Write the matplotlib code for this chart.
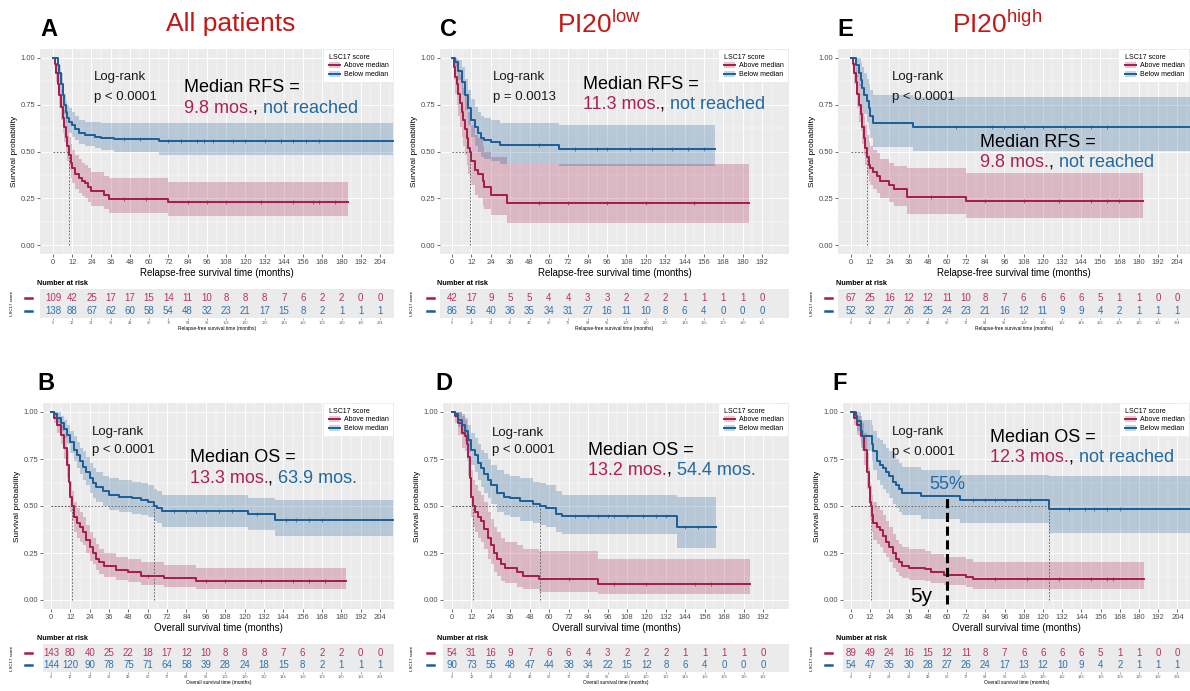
import numpy as np
import matplotlib.pyplot as plt
from matplotlib.patches import Patch
from matplotlib.lines import Line2D

plt.rcParams['font.family'] = ['Liberation Sans', 'DejaVu Sans']
plt.rcParams['mathtext.fontset'] = 'custom'
plt.rcParams['mathtext.rm'] = 'Liberation Sans'
plt.rcParams['mathtext.it'] = 'Liberation Sans:italic'
plt.rcParams['mathtext.bf'] = 'Liberation Sans:bold'

RED = '#A51C4C'
BLUE = '#1C5E98'
RED_TXT = '#B0204F'
BLUE_TXT = '#1F6AA6'
TITLE_RED = '#C41818'
GRAY_BG = '#EBEBEB'

W, H = 1190, 691


def fx(px):
    return px / W


def fy(py):
    return 1 - py / H


# ---------------- data ----------------
risk_times = list(range(0, 205, 12))

# A: relapse-free survival, all patients
a_red_t = [0, 1, 2, 3, 4, 5, 6, 7, 8, 9, 10, 11, 12, 14, 16, 18, 20, 22, 24, 32, 35, 72, 184]
a_red_s = [1.0, 0.97, 0.92, 0.86, 0.80, 0.74, 0.68, 0.63, 0.58, 0.53, 0.48, 0.44, 0.41, 0.38, 0.36, 0.34, 0.33, 0.31, 0.29, 0.27, 0.244, 0.228, 0.228]
a_red_lo = [1.0, 0.94, 0.87, 0.80, 0.73, 0.67, 0.60, 0.55, 0.50, 0.45, 0.40, 0.36, 0.33, 0.30, 0.28, 0.26, 0.25, 0.23, 0.21, 0.19, 0.17, 0.155, 0.155]
a_red_hi = [1.0, 1.0, 0.97, 0.93, 0.88, 0.83, 0.77, 0.72, 0.67, 0.62, 0.58, 0.54, 0.51, 0.48, 0.46, 0.44, 0.43, 0.41, 0.39, 0.37, 0.356, 0.338, 0.338]
a_red_cens = [44, 58, 84, 96, 108, 130, 150, 162, 166, 176]
a_blue_t = [0, 2, 3, 4, 5, 6, 7, 8, 9, 10, 12, 14, 16, 20, 26, 30, 38, 66, 212]
a_blue_s = [1.0, 1.0, 0.96, 0.92, 0.86, 0.80, 0.75, 0.71, 0.68, 0.66, 0.64, 0.62, 0.60, 0.59, 0.58, 0.57, 0.565, 0.555, 0.555]
a_blue_lo = [1.0, 1.0, 0.93, 0.88, 0.82, 0.75, 0.70, 0.65, 0.62, 0.60, 0.58, 0.56, 0.54, 0.53, 0.52, 0.51, 0.50, 0.48, 0.48]
a_blue_hi = [1.0, 1.0, 0.99, 0.96, 0.92, 0.86, 0.81, 0.77, 0.75, 0.73, 0.71, 0.69, 0.67, 0.66, 0.66, 0.655, 0.655, 0.653, 0.653]
a_blue_cens = [44, 54, 72, 80, 90, 94, 100, 112, 120, 132, 142, 150, 158, 166]
a_red_risk = [109, 42, 25, 17, 17, 15, 14, 11, 10, 8, 8, 8, 7, 6, 2, 2, 0, 0]
a_blue_risk = [138, 88, 67, 62, 60, 58, 54, 48, 32, 23, 21, 17, 15, 8, 2, 1, 1, 1]

# C: relapse-free survival, PI20 low
c_red_t = [0, 1, 2, 3, 4, 5, 6, 7, 8, 9, 10, 11.3, 12, 14, 16, 19, 20, 24, 34, 184]
c_red_s = [1.0, 0.95, 0.90, 0.86, 0.81, 0.76, 0.71, 0.67, 0.62, 0.57, 0.52, 0.50, 0.45, 0.40, 0.38, 0.34, 0.31, 0.27, 0.225, 0.225]
c_red_lo = [1.0, 0.88, 0.81, 0.75, 0.69, 0.63, 0.58, 0.53, 0.48, 0.43, 0.38, 0.36, 0.32, 0.27, 0.25, 0.21, 0.19, 0.16, 0.12, 0.12]
c_red_hi = [1.0, 1.0, 0.99, 0.97, 0.94, 0.91, 0.87, 0.84, 0.80, 0.76, 0.71, 0.69, 0.64, 0.59, 0.57, 0.53, 0.50, 0.47, 0.435, 0.435]
c_red_cens = [54, 72, 96, 120, 150]
c_blue_t = [0, 2, 4, 6, 8, 10, 12, 14, 16, 18, 20, 24, 30, 66, 163]
c_blue_s = [1.0, 0.98, 0.93, 0.87, 0.80, 0.73, 0.67, 0.63, 0.60, 0.57, 0.56, 0.55, 0.535, 0.515, 0.515]
c_blue_lo = [1.0, 0.95, 0.88, 0.80, 0.72, 0.64, 0.58, 0.53, 0.50, 0.47, 0.46, 0.45, 0.435, 0.42, 0.42]
c_blue_hi = [1.0, 1.0, 0.99, 0.95, 0.89, 0.83, 0.78, 0.74, 0.71, 0.69, 0.68, 0.67, 0.655, 0.64, 0.64]
c_blue_cens = [54, 76, 90, 96, 110, 124, 136, 146, 156]
c_red_risk = [42, 17, 9, 5, 5, 4, 4, 3, 3, 2, 2, 2, 1, 1, 1, 1, 0]
c_blue_risk = [86, 56, 40, 36, 35, 34, 31, 27, 16, 11, 10, 8, 6, 4, 0, 0, 0]

# E: relapse-free survival, PI20 high
e_red_t = [0, 1, 2, 3, 4, 5, 6, 7, 8, 9, 10, 11, 12, 14, 16, 18, 24, 27, 35, 72, 183]
e_red_s = [1.0, 0.97, 0.92, 0.87, 0.81, 0.75, 0.70, 0.63, 0.57, 0.52, 0.47, 0.43, 0.41, 0.39, 0.37, 0.34, 0.32, 0.30, 0.258, 0.235, 0.235]
e_red_lo = [1.0, 0.93, 0.86, 0.80, 0.73, 0.66, 0.61, 0.54, 0.48, 0.43, 0.38, 0.34, 0.32, 0.30, 0.28, 0.25, 0.23, 0.21, 0.165, 0.145, 0.145]
e_red_hi = [1.0, 1.0, 0.98, 0.95, 0.91, 0.86, 0.81, 0.75, 0.69, 0.64, 0.59, 0.55, 0.53, 0.51, 0.49, 0.46, 0.44, 0.42, 0.41, 0.383, 0.383]
e_red_cens = [50, 84, 108, 130, 150, 160, 168]
e_blue_t = [0, 2, 3, 5, 6, 7, 8, 10, 11, 12, 14, 39, 212]
e_blue_s = [1.0, 1.0, 0.96, 0.92, 0.88, 0.84, 0.80, 0.77, 0.73, 0.69, 0.655, 0.63, 0.63]
e_blue_lo = [1.0, 1.0, 0.90, 0.85, 0.80, 0.75, 0.70, 0.66, 0.62, 0.57, 0.525, 0.505, 0.505]
e_blue_hi = [1.0, 1.0, 1.0, 1.0, 0.98, 0.95, 0.92, 0.89, 0.86, 0.83, 0.80, 0.79, 0.79]
e_blue_cens = [66, 88, 96, 108, 120, 134, 150, 160]
e_red_risk = [67, 25, 16, 12, 12, 11, 10, 8, 7, 6, 6, 6, 6, 5, 1, 1, 0, 0]
e_blue_risk = [52, 32, 27, 26, 25, 24, 23, 21, 16, 12, 11, 9, 9, 4, 2, 1, 1, 1]

# B: overall survival, all patients
b_red_t = [0, 2, 4, 6, 8, 10, 11, 12, 13.3, 14, 16, 18, 20, 22, 24, 26, 28, 30, 33, 40, 48, 56, 70, 90, 183]
b_red_s = [1.0, 0.97, 0.93, 0.88, 0.81, 0.72, 0.63, 0.55, 0.50, 0.44, 0.41, 0.39, 0.36, 0.32, 0.28, 0.25, 0.22, 0.20, 0.18, 0.16, 0.15, 0.13, 0.115, 0.103, 0.103]
b_red_lo = [1.0, 0.94, 0.89, 0.83, 0.75, 0.65, 0.55, 0.47, 0.42, 0.36, 0.33, 0.31, 0.29, 0.25, 0.21, 0.19, 0.16, 0.14, 0.12, 0.105, 0.095, 0.08, 0.07, 0.06, 0.06]
b_red_hi = [1.0, 1.0, 0.97, 0.93, 0.87, 0.79, 0.71, 0.63, 0.58, 0.52, 0.49, 0.47, 0.44, 0.40, 0.36, 0.33, 0.30, 0.27, 0.25, 0.23, 0.22, 0.20, 0.185, 0.172, 0.172]
b_red_cens = [60, 96, 108, 130, 150, 160, 170]
b_blue_t = [0, 1, 2, 4, 6, 8, 10, 12, 14, 16, 18, 20, 22, 24, 26, 28, 32, 36, 42, 50, 56, 60, 63.9, 66, 69, 122, 139, 212]
b_blue_s = [1.0, 1.0, 0.99, 0.97, 0.94, 0.91, 0.88, 0.84, 0.80, 0.77, 0.74, 0.71, 0.68, 0.65, 0.62, 0.60, 0.58, 0.56, 0.55, 0.54, 0.53, 0.52, 0.50, 0.49, 0.475, 0.455, 0.428, 0.428]
b_blue_lo = [1.0, 1.0, 0.97, 0.94, 0.90, 0.86, 0.83, 0.78, 0.74, 0.70, 0.67, 0.64, 0.61, 0.57, 0.54, 0.52, 0.50, 0.48, 0.47, 0.46, 0.45, 0.44, 0.42, 0.41, 0.39, 0.37, 0.34, 0.34]
b_blue_hi = [1.0, 1.0, 1.0, 1.0, 0.98, 0.96, 0.93, 0.90, 0.87, 0.84, 0.81, 0.79, 0.76, 0.73, 0.70, 0.68, 0.66, 0.65, 0.64, 0.63, 0.62, 0.61, 0.59, 0.58, 0.56, 0.545, 0.53, 0.53]
b_blue_cens = [76, 84, 90, 96, 104, 112, 128, 146, 152, 160, 168]
b_red_risk = [143, 80, 40, 25, 22, 18, 17, 12, 10, 8, 8, 8, 7, 6, 2, 2, 0, 0]
b_blue_risk = [144, 120, 90, 78, 75, 71, 64, 58, 39, 28, 24, 18, 15, 8, 2, 1, 1, 1]

# D: overall survival, PI20 low
d_red_t = [0, 2, 4, 6, 8, 9, 10, 11, 12, 13.2, 14, 16, 18, 20, 22, 24, 26, 28, 30, 33, 40, 44, 54, 90, 184]
d_red_s = [1.0, 0.98, 0.94, 0.89, 0.87, 0.83, 0.76, 0.65, 0.55, 0.50, 0.47, 0.44, 0.42, 0.38, 0.33, 0.29, 0.25, 0.22, 0.19, 0.17, 0.15, 0.13, 0.11, 0.085, 0.085]
d_red_lo = [1.0, 0.94, 0.88, 0.81, 0.79, 0.74, 0.66, 0.54, 0.44, 0.39, 0.36, 0.33, 0.31, 0.27, 0.22, 0.19, 0.15, 0.13, 0.10, 0.09, 0.07, 0.06, 0.045, 0.03, 0.03]
d_red_hi = [1.0, 1.0, 1.0, 0.98, 0.96, 0.93, 0.88, 0.78, 0.69, 0.64, 0.61, 0.58, 0.56, 0.52, 0.47, 0.43, 0.39, 0.36, 0.33, 0.31, 0.29, 0.27, 0.26, 0.216, 0.216]
d_red_cens = [72, 100, 120, 150, 160]
d_blue_t = [0, 2, 4, 6, 8, 10, 12, 14, 16, 18, 20, 22, 24, 28, 32, 36, 42, 50, 54.4, 58, 64, 68, 139, 163]
d_blue_s = [1.0, 0.99, 0.96, 0.93, 0.90, 0.85, 0.80, 0.77, 0.73, 0.70, 0.67, 0.64, 0.61, 0.57, 0.55, 0.54, 0.525, 0.51, 0.50, 0.49, 0.46, 0.445, 0.39, 0.39]
d_blue_lo = [1.0, 0.97, 0.92, 0.88, 0.84, 0.78, 0.72, 0.68, 0.64, 0.60, 0.57, 0.54, 0.51, 0.47, 0.45, 0.44, 0.42, 0.41, 0.40, 0.39, 0.36, 0.35, 0.275, 0.275]
d_blue_hi = [1.0, 1.0, 1.0, 0.99, 0.97, 0.93, 0.89, 0.86, 0.83, 0.80, 0.78, 0.75, 0.72, 0.69, 0.67, 0.66, 0.65, 0.63, 0.62, 0.61, 0.58, 0.56, 0.55, 0.55]
d_blue_cens = [76, 84, 90, 96, 100, 108, 118, 126, 132, 144, 152]
d_red_risk = [54, 31, 16, 9, 7, 6, 6, 4, 3, 2, 2, 2, 1, 1, 1, 1, 0]
d_blue_risk = [90, 73, 55, 48, 47, 44, 38, 34, 22, 15, 12, 8, 6, 4, 0, 0, 0]

# F: overall survival, PI20 high
f_red_t = [0, 2, 4, 6, 8, 10, 11, 12, 12.3, 13, 14, 16, 18, 20, 22, 24, 26, 28, 30, 32, 36, 46, 50, 58, 72, 76, 183]
f_red_s = [1.0, 0.97, 0.93, 0.87, 0.80, 0.68, 0.60, 0.52, 0.50, 0.45, 0.41, 0.39, 0.37, 0.34, 0.31, 0.28, 0.25, 0.22, 0.20, 0.18, 0.17, 0.165, 0.15, 0.135, 0.125, 0.11, 0.11]
f_red_lo = [1.0, 0.93, 0.88, 0.81, 0.72, 0.59, 0.51, 0.43, 0.41, 0.36, 0.32, 0.30, 0.28, 0.25, 0.23, 0.20, 0.17, 0.15, 0.13, 0.115, 0.105, 0.10, 0.09, 0.08, 0.07, 0.06, 0.06]
f_red_hi = [1.0, 1.0, 0.98, 0.94, 0.89, 0.78, 0.71, 0.63, 0.61, 0.56, 0.52, 0.50, 0.48, 0.45, 0.42, 0.39, 0.35, 0.32, 0.30, 0.28, 0.27, 0.26, 0.245, 0.23, 0.22, 0.204, 0.204]
f_red_cens = [90, 110, 130, 150, 160, 164]
f_blue_t = [0, 2, 3, 4, 6, 7, 13, 14, 16, 18, 20, 22, 24, 26, 28, 30, 32, 44, 68, 124, 212]
f_blue_s = [1.0, 1.0, 0.98, 0.95, 0.90, 0.87, 0.83, 0.79, 0.74, 0.72, 0.70, 0.68, 0.66, 0.63, 0.61, 0.59, 0.57, 0.555, 0.53, 0.485, 0.485]
f_blue_lo = [1.0, 1.0, 0.94, 0.90, 0.83, 0.79, 0.74, 0.69, 0.64, 0.61, 0.59, 0.57, 0.54, 0.51, 0.49, 0.47, 0.45, 0.43, 0.41, 0.355, 0.355]
f_blue_hi = [1.0, 1.0, 1.0, 1.0, 0.98, 0.96, 0.93, 0.90, 0.86, 0.85, 0.83, 0.81, 0.79, 0.77, 0.75, 0.73, 0.71, 0.69, 0.665, 0.66, 0.66]
f_blue_cens = [76, 84, 90, 96, 104, 112, 136, 146, 152, 160, 168]
f_red_risk = [89, 49, 24, 16, 15, 12, 11, 8, 7, 6, 6, 6, 6, 5, 1, 1, 0, 0]
f_blue_risk = [54, 47, 35, 30, 28, 27, 26, 24, 17, 13, 12, 10, 9, 4, 2, 1, 1, 1]

RFS = 'Relapse-free survival time (months)'
OS = 'Overall survival time (months)'

panels = [
    dict(letter='A', title='All patients', row=0, col=0, xr=(40, 394), x0=53, ppm=1.603, tmax=204,
         red=(a_red_t, a_red_s, a_red_lo, a_red_hi, a_red_cens),
         blue=(a_blue_t, a_blue_s, a_blue_lo, a_blue_hi, a_blue_cens),
         risk=(a_red_risk, a_blue_risk), medians=[9.8], xlabel=RFS,
         lr=(25.5, 0.90, 0.79), pval='p < 0.0001',
         med=(82, 0.84, 0.73), medlab='Median RFS =', medvals=('9.8 mos.', 'not reached')),
    dict(letter='C', title=r'PI20$^{\mathrm{low}}$', row=0, col=1, xr=(440, 789), x0=452, ppm=1.615, tmax=192,
         red=(c_red_t, c_red_s, c_red_lo, c_red_hi, c_red_cens),
         blue=(c_blue_t, c_blue_s, c_blue_lo, c_blue_hi, c_blue_cens),
         risk=(c_red_risk, c_blue_risk), medians=[11.3], xlabel=RFS,
         lr=(25.4, 0.90, 0.79), pval='p = 0.0013',
         med=(81, 0.86, 0.75), medlab='Median RFS =', medvals=('11.3 mos.', 'not reached')),
    dict(letter='E', title=r'PI20$^{\mathrm{high}}$', row=0, col=2, xr=(838, 1190), x0=851, ppm=1.598, tmax=204,
         red=(e_red_t, e_red_s, e_red_lo, e_red_hi, e_red_cens),
         blue=(e_blue_t, e_blue_s, e_blue_lo, e_blue_hi, e_blue_cens),
         risk=(e_red_risk, e_blue_risk), medians=[9.8], xlabel=RFS,
         lr=(25.4, 0.90, 0.79), pval='p < 0.0001',
         med=(80.6, 0.55, 0.44), medlab='Median RFS =', medvals=('9.8 mos.', 'not reached')),
    dict(letter='B', title=None, row=1, col=0, xr=(43, 394), x0=51, ppm=1.613, tmax=204,
         red=(b_red_t, b_red_s, b_red_lo, b_red_hi, b_red_cens),
         blue=(b_blue_t, b_blue_s, b_blue_lo, b_blue_hi, b_blue_cens),
         risk=(b_red_risk, b_blue_risk), medians=[13.3, 63.9], xlabel=OS,
         lr=(25.4, 0.894, 0.797), pval='p < 0.0001',
         med=(86, 0.757, 0.646), medlab='Median OS =', medvals=('13.3 mos.', '63.9 mos.')),
    dict(letter='D', title=None, row=1, col=1, xr=(443, 789), x0=452, ppm=1.62, tmax=192,
         red=(d_red_t, d_red_s, d_red_lo, d_red_hi, d_red_cens),
         blue=(d_blue_t, d_blue_s, d_blue_lo, d_blue_hi, d_blue_cens),
         risk=(d_red_risk, d_blue_risk), medians=[13.2, 54.4], xlabel=OS,
         lr=(24.9, 0.89, 0.80), pval='p < 0.0001',
         med=(84, 0.796, 0.69), medlab='Median OS =', medvals=('13.2 mos.', '54.4 mos.')),
    dict(letter='F', title=None, row=1, col=2, xr=(843, 1190), x0=851, ppm=1.60, tmax=204,
         red=(f_red_t, f_red_s, f_red_lo, f_red_hi, f_red_cens),
         blue=(f_blue_t, f_blue_s, f_blue_lo, f_blue_hi, f_blue_cens),
         risk=(f_red_risk, f_blue_risk), medians=[12.3, 123.5], xlabel=OS,
         lr=(25.4, 0.894, 0.788), pval='p < 0.0001',
         med=(86.9, 0.867, 0.757), medlab='Median OS =', medvals=('12.3 mos.', 'not reached')),
]

col_label_x = [37, 437, 836]
col_dash_x = [25, 427, 825]
col_lsc_x = [12, 412, 812]

fig = plt.figure(figsize=(W / 100, H / 100), dpi=100)
fig.patch.set_facecolor('white')


def draw(p):
    l, r = p['xr']
    top, bot = (48.6, 254.4) if p['row'] == 0 else (402.6, 609.4)
    ax = fig.add_axes([fx(l), fy(bot), fx(r) - fx(l), (bot - top) / H])
    ax.set_facecolor(GRAY_BG)
    xlim = ((l - p['x0']) / p['ppm'], (r - p['x0']) / p['ppm'])
    ax.set_xlim(*xlim)
    ax.set_ylim(-0.05, 1.05)
    ticks = np.arange(0, p['tmax'] + 1, 12)
    ax.set_xticks(ticks)
    ax.set_xticks(np.arange(6, xlim[1], 12), minor=True)
    ax.set_yticks([0, 0.25, 0.5, 0.75, 1.0])
    ax.set_yticklabels(['0.00', '0.25', '0.50', '0.75', '1.00'])
    ax.set_yticks([0.125, 0.375, 0.625, 0.875], minor=True)
    ax.grid(which='major', color='white', lw=0.7)
    ax.grid(which='minor', color='white', lw=0.35)
    ax.set_axisbelow(True)
    for s in ax.spines.values():
        s.set_visible(False)
    ax.tick_params(which='major', length=2, width=0.5, color='#333333',
                   labelsize=5.5, labelcolor='#4D4D4D', pad=1.5)
    ax.tick_params(which='minor', length=0)
    ax.set_xlabel(p['xlabel'], fontsize=7, labelpad=1)
    ax.set_ylabel('Survival probability', fontsize=6, labelpad=2)

    for curve, col in ((p['red'], RED), (p['blue'], BLUE)):
        t, s, lo, hi, cens = curve
        ax.fill_between(t, lo, hi, step='post', color=col, alpha=0.25, lw=0)
        ax.step(t, s, where='post', color=col, lw=1.4)
        idx = np.searchsorted(t, cens, side='right') - 1
        ax.plot(cens, np.array(s)[idx], '+', color=col, ms=2.5, mew=0.5)

    for m in p['medians']:
        ax.plot([0, m], [0.5, 0.5], color='#555555', lw=0.6, ls=(0, (2, 2)))
        ax.plot([m, m], [0, 0.5], color='#555555', lw=0.6, ls=(0, (2, 2)))

    handles = [(Patch(facecolor=RED, alpha=0.25, lw=0), Line2D([], [], color=RED, lw=1.4)),
               (Patch(facecolor=BLUE, alpha=0.25, lw=0), Line2D([], [], color=BLUE, lw=1.4))]
    ax.legend(handles, ['Above median', 'Below median'], title='LSC17 score',
              loc='upper right', fontsize=5, title_fontsize=5, frameon=True,
              facecolor='white', edgecolor='none', fancybox=False, framealpha=1,
              borderaxespad=0.15, handlelength=1.7, handleheight=0.9,
              labelspacing=0.2, borderpad=0.6, handletextpad=0.5, alignment='left')

    x, y1, y2 = p['lr']
    ax.text(x, y1, 'Log-rank', fontsize=9.5, va='center', ha='left', color='#1A1A1A')
    ax.text(x, y2, p['pval'], fontsize=9.5, va='center', ha='left', color='#1A1A1A')
    x, y1, y2 = p['med']
    ax.text(x, y1, p['medlab'], fontsize=13, va='center', ha='left', color='black')
    t1 = ax.text(x, y2, p['medvals'][0], fontsize=13, va='center', ha='left', color=RED_TXT)
    t2 = ax.annotate(', ', xy=(1, 0), xycoords=t1, fontsize=13, va='bottom', ha='left', color='black')
    ax.annotate(p['medvals'][1], xy=(1, 0), xycoords=t2, fontsize=13, va='bottom', ha='left', color=BLUE_TXT)

    if p['letter'] == 'F':
        ax.plot([60, 60], [-0.02, 0.555], color='black', lw=2.2, ls=(0, (3, 1.5)))
        ax.text(60, 0.615, '55%', fontsize=13, color=BLUE_TXT, ha='center', va='center')
        ax.text(44, 0.02, '5y', fontsize=15, color='black', ha='center', va='center')

    # number at risk table
    ttop, tbot = (289, 318) if p['row'] == 0 else (644, 672)
    tax = fig.add_axes([fx(l), fy(tbot), fx(r) - fx(l), (tbot - ttop) / H])
    tax.set_facecolor(GRAY_BG)
    tax.set_xlim(*xlim)
    tax.set_ylim(0, 1)
    for s in tax.spines.values():
        s.set_visible(False)
    tax.set_yticks([])
    tax.set_xticks(ticks)
    tax.tick_params(axis='x', length=1.2, width=0.4, color='#666666', labelsize=2.8,
                    labelcolor='#666666', pad=1)
    tax.set_xlabel(p['xlabel'], fontsize=3.5, labelpad=0.5)
    n = len(ticks)
    for vals, ypos, col in ((p['risk'][0], 0.69, '#B8335F'), (p['risk'][1], 0.245, '#2F73AE')):
        for tt, v in zip(ticks, vals[:n]):
            tax.text(tt, ypos, str(v), ha='center', va='center', fontsize=7, color=col)
    c = p['col']
    fig.text(fx(col_label_x[c]), fy(ttop - 5), 'Number at risk', fontsize=5.2,
             fontweight='bold', ha='left', va='center')
    for ypos, col in ((0.69, RED), (0.245, BLUE)):
        yp = tbot - ypos * (tbot - ttop)
        fig.add_artist(Line2D([fx(col_dash_x[c]), fx(col_dash_x[c] + 7)], [fy(yp), fy(yp)],
                              color=col, lw=1.8))
    fig.text(fx(col_lsc_x[c]), fy((ttop + tbot) / 2), 'LSC17 score', rotation=90,
             fontsize=3.2, ha='center', va='center')

    # panel letters and titles
    if p['row'] == 0:
        fig.text(fx([40, 440, 837][c]), fy(30), p['letter'], fontsize=17, fontweight='bold',
                 ha='left', va='center')
    else:
        fig.text(fx([37, 435, 832][c]), fy(383), p['letter'], fontsize=17, fontweight='bold',
                 ha='left', va='center')
    if p['title']:
        fig.text(fx([231, 599, 997][c]), fy(24), p['title'], fontsize=19, color=TITLE_RED,
                 ha='center', va='center')


for p in panels:
    draw(p)

fig.savefig('out.png', dpi=100, facecolor='white')
